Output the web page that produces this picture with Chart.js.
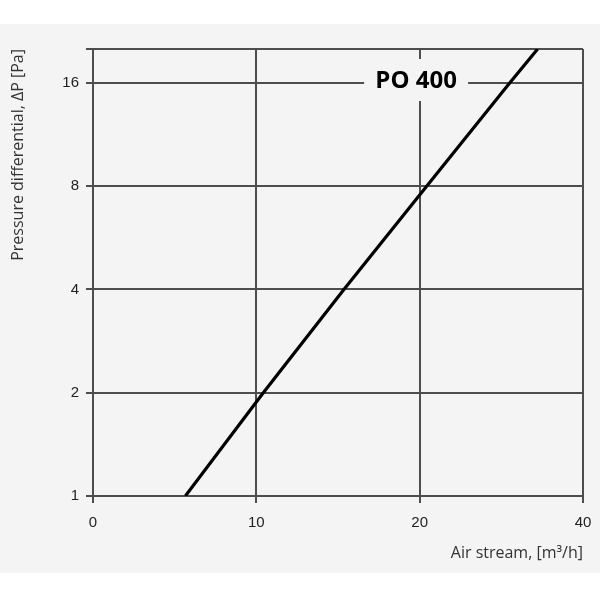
<!DOCTYPE html>
<html>
<head>
<meta charset="utf-8">
<script src="https://cdn.jsdelivr.net/npm/chart.js@4.4.0/dist/chart.umd.min.js"></script>
<style>
  html, body { margin: 0; padding: 0; background: #ffffff; }
  #wrap { width: 600px; height: 600px; position: relative; }
</style>
</head>
<body>
<div id="wrap"><canvas id="chart" width="600" height="600"></canvas></div>
<script>
// Air stream [m3/h] vs pressure differential [Pa]
const airStream = [7.4, 10.3, 14.5, 20.6, 29.3, 33.0];
const pressureDiff = [1, 2, 4, 8, 16, 20.1];

const xTickValues = [5, 10, 20, 40];
const xTickLabels = ['0', '10', '20', '40'];
const yTickValues = [1, 2, 4, 8, 16, 20.1];
const yTickLabels = ['1', '2', '4', '8', '16', ''];

const curveName = 'PO 400';

const gridColor = '#4d4d4d';
const bgGray = '#f4f4f4';
const tickFont = { family: 'Liberation Sans', size: 15 };
const titleFont = { family: 'Open Sans', size: 16 };

const backdrop = {
    id: 'backdrop',
    beforeDraw(chart) {
        const ctx = chart.ctx;
        ctx.save();
        ctx.fillStyle = bgGray;
        ctx.fillRect(0, 24, chart.width, 549);
        ctx.restore();
    }
};

const curveLabel = {
    id: 'curveLabel',
    afterDatasetsDraw(chart) {
        const ctx = chart.ctx;
        const xs = chart.scales.x, ys = chart.scales.y;
        const cx = xs.getPixelForValue(19.7);
        const cy = ys.getPixelForValue(16) - 2;
        ctx.save();
        ctx.font = 'bold 24px "Open Sans"';
        ctx.fillStyle = bgGray;
        ctx.fillRect(cx - 52, cy - 22, 104, 42);
        ctx.fillStyle = '#000';
        ctx.textAlign = 'center';
        ctx.textBaseline = 'middle';
        ctx.fillText(curveName, cx, cy);
        ctx.restore();
    }
};

new Chart(document.getElementById('chart'), {
    type: 'line',
    data: {
        datasets: [{
            data: airStream.map((x, i) => ({ x: x, y: pressureDiff[i] })),
            borderColor: '#000',
            borderWidth: 3.2,
            pointRadius: 0,
            tension: 0,
            fill: false
        }]
    },
    options: {
        responsive: false,
        animation: false,
        events: [],
        layout: { padding: { left: 5, top: 49, right: 17, bottom: 33 } },
        plugins: { legend: { display: false }, tooltip: { enabled: false } },
        scales: {
            x: {
                type: 'logarithmic',
                min: 5,
                max: 40,
                afterBuildTicks: s => { s.ticks = xTickValues.map(v => ({ value: v })); },
                afterFit: s => { s.height = 71; s.paddingRight = 0; s.paddingLeft = 0; },
                grid: { color: gridColor, lineWidth: 2, tickLength: 7 },
                border: { display: false },
                ticks: {
                    color: '#222',
                    font: tickFont,
                    padding: 11,
                    maxRotation: 0,
                    callback: (v, i) => xTickLabels[i]
                },
                title: {
                    display: true,
                    text: 'Air stream, [m³/h]',
                    align: 'end',
                    color: '#333',
                    font: titleFont
                }
            },
            y: {
                type: 'logarithmic',
                min: 1,
                max: 20.1,
                afterBuildTicks: s => { s.ticks = yTickValues.map(v => ({ value: v })); },
                afterFit: s => { s.width = 88; s.paddingTop = 0; s.paddingBottom = 0; },
                grid: { color: gridColor, lineWidth: 2, tickLength: 7 },
                border: { display: false },
                ticks: {
                    color: '#222',
                    font: tickFont,
                    padding: 7,
                    callback: (v, i) => yTickLabels[i]
                },
                title: {
                    display: true,
                    text: 'Pressure differential, ΔP [Pa]',
                    align: 'end',
                    color: '#333',
                    font: titleFont
                }
            }
        }
    },
    plugins: [backdrop, curveLabel]
});
</script>
</body>
</html>
